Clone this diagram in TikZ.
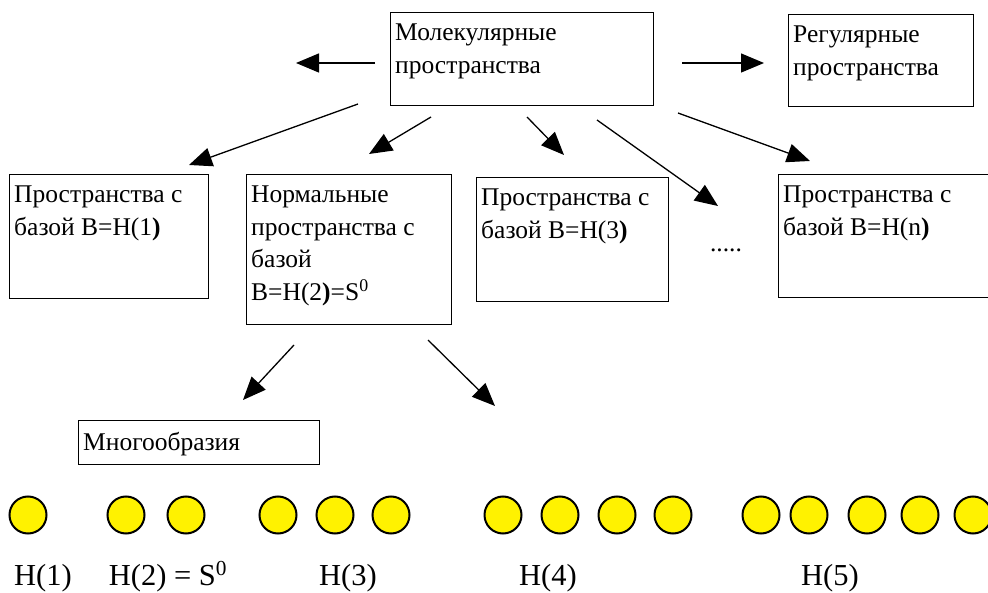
\documentclass[tikz,border=0pt]{standalone}
\usepackage{fontspec}
\setmainfont{Liberation Serif}
\newfontfamily\tnr{Liberation Serif}
\usetikzlibrary{arrows.meta}
\begin{document}
\begin{tikzpicture}[x=1pt,y=-1pt,
 box/.style={draw, line width=1.4pt, anchor=north west, inner sep=0pt},
 txt/.style={anchor=north west, align=left, inner xsep=5pt, inner ysep=12pt, font=\tnr\fontsize{25.5}{32.5}\selectfont},
 arr/.style={line width=1.3pt, -{Triangle[length=23pt,width=19pt]}},
 dot/.style={circle, draw, line width=2pt, fill=yellow, minimum size=37pt, inner sep=0pt},
 hlab/.style={font=\tnr\fontsize{30.5}{34}\selectfont, anchor=base, inner sep=0pt}]
\useasboundingbox[fill=white] (0,0) rectangle (988,593);
% boxes
\node[box, minimum width=263pt, minimum height=93pt, label={[txt]north west:{Молекулярные\\пространства}}] (mol) at (390,12) {};
\node[box, minimum width=185pt, minimum height=92pt, label={[txt]north west:{Регулярные\\пространства}}] (reg) at (788,14) {};
\node[box, minimum width=199pt, minimum height=124pt, label={[txt]north west:{Пространства с\\базой B=H(1\textbf{)}}}] (b1) at (9,174) {};
\node[box, minimum width=205pt, minimum height=150pt, label={[txt]north west:{Нормальные\\пространства с\\базой\\B=H(2\textbf{)}=S\textsuperscript{0}}}] (b2) at (246,174) {};
\node[box, minimum width=192pt, minimum height=124pt, label={[txt]north west:{Пространства с\\базой B=H(3\textbf{)}}}] (b3) at (476,177) {};
\node[box, minimum width=230pt, minimum height=123pt, label={[txt]north west:{Пространства с\\базой B=H(n\textbf{)}}}] (bn) at (778,174) {};
\node[box, minimum width=241pt, minimum height=44pt, label={[txt]north west:{Многообразия}}] (mani) at (78,420) {};
\node[font=\tnr\fontsize{25.5}{30}\selectfont, anchor=base, inner sep=0pt] (dots) at (726,252) {.....};
% arrow end points
\coordinate (l0) at (375,63); \coordinate (l1) at (296,63);
\coordinate (r0) at (682,63); \coordinate (r1) at (764,63);
\coordinate (a0) at (358,104); \coordinate (a1) at (189,165);
\coordinate (b0) at (431,117); \coordinate (b1e) at (369,154);
\coordinate (c0) at (527,117); \coordinate (c1e) at (564,155);
\coordinate (d0) at (597,120); \coordinate (d1) at (718,206);
\coordinate (e0) at (678,113); \coordinate (e1) at (810,161);
\coordinate (f0) at (294,345); \coordinate (f1) at (243,400);
\coordinate (g0) at (428,340); \coordinate (g1) at (495,406);
\foreach \s/\t in {l0/l1, r0/r1, a0/a1, b0/b1e, c0/c1e, d0/d1, e0/e1, f0/f1, g0/g1}
  \draw[arr] (\s) -- (\t);
% circles
\foreach \x [count=\i] in {28,126,186,278,335,391,503,560,617,673,761,809,867,920,973}
  \node[dot] (p\i) at (\x,515) {};
% labels
\node[hlab] (h1) at (43,585) {H(1)};
\node[hlab] (h2) at (168,585) {H(2) = S\textsuperscript{0}};
\node[hlab] (h3) at (348,585) {H(3)};
\node[hlab] (h4) at (548,585) {H(4)};
\node[hlab] (h5) at (830,585) {H(5)};
\end{tikzpicture}
\end{document}
